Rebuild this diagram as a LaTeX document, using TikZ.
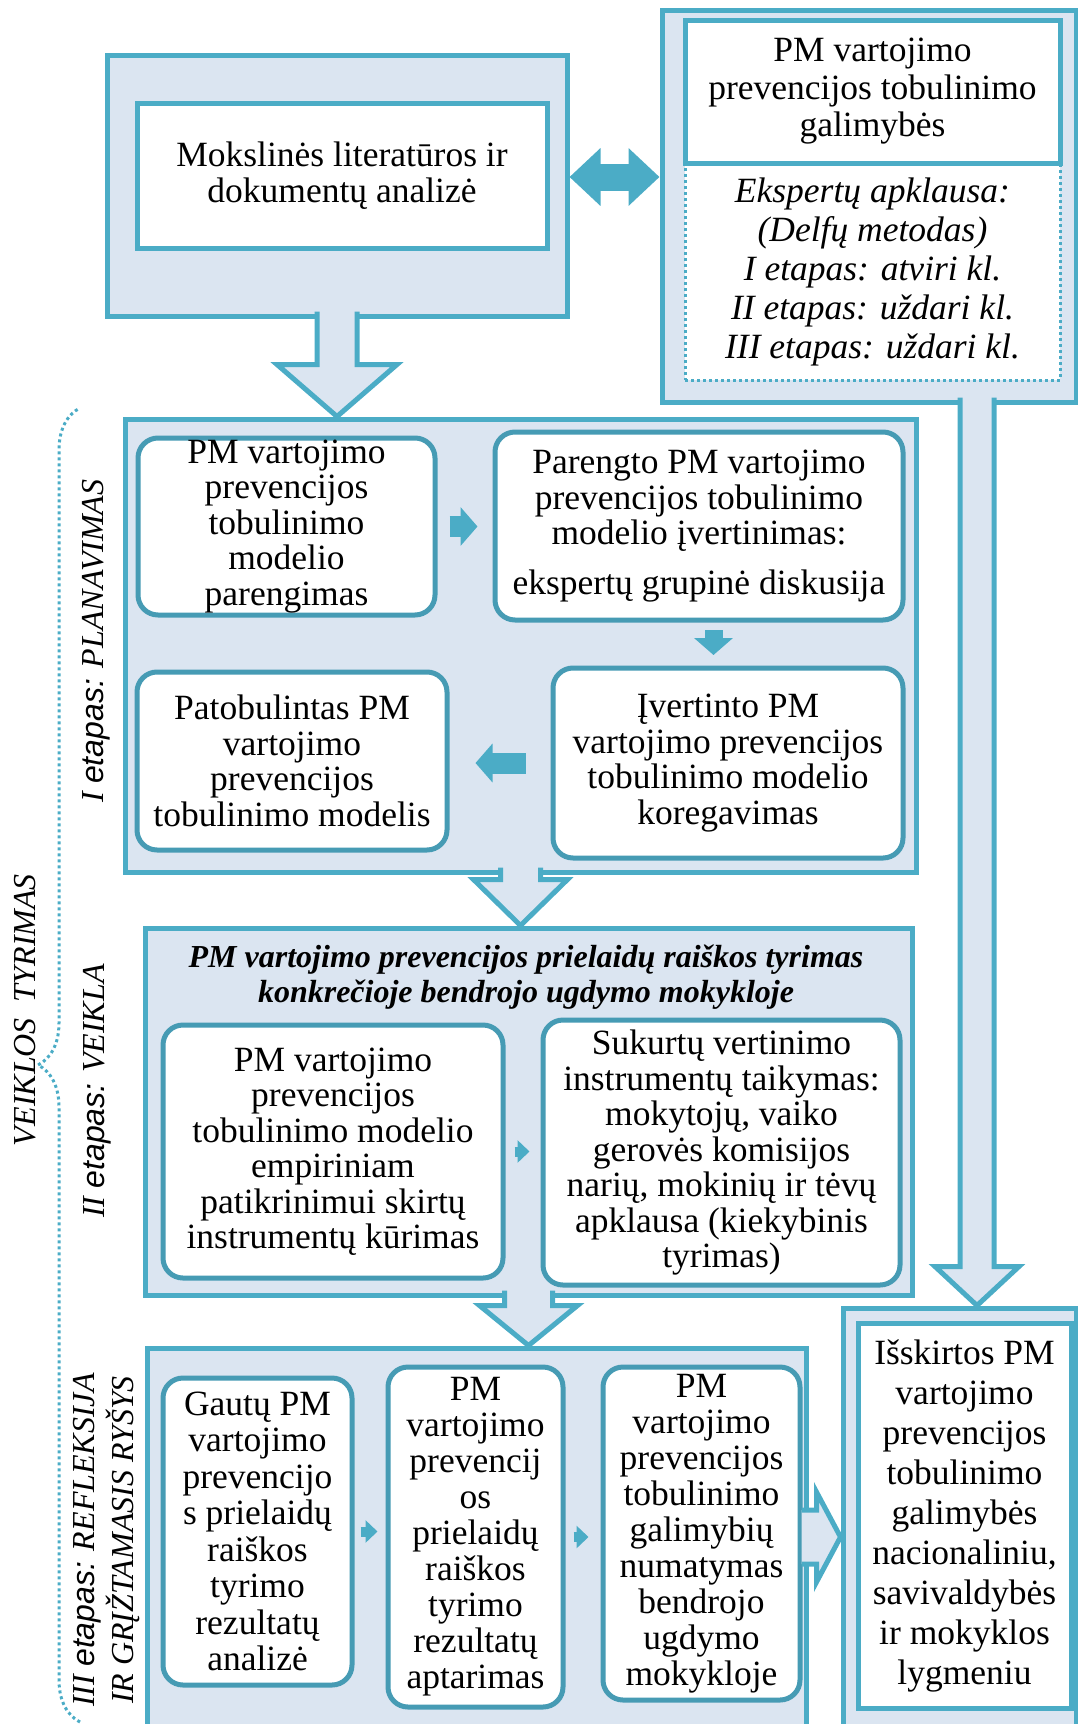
\documentclass[tikz,border=0pt]{standalone}
\usepackage{fontspec}
\setmainfont{Liberation Serif}
\newfontfamily\etapfont{Liberation Sans}
\usetikzlibrary{
    arrows.meta,
    positioning,
    calc,
    decorations.pathreplacing
}
\definecolor{aqua}{HTML}{4BACC6}
\definecolor{aquadark}{HTML}{469BB4}
\definecolor{paleblue}{HTML}{DBE5F1}

\begin{document}
\begin{tikzpicture}[
    x=1pt, y=-1pt,
    every node/.style={align=center, inner sep=0pt, font=\fontsize{35.5}{35.5}\selectfont},
    block/.style={rectangle, draw=aqua, fill=paleblue, line width=5pt},
    plainbox/.style={rectangle, draw=aqua, fill=white, line width=5pt},
    stepbox/.style={rectangle, rounded corners=20pt, draw=aquadark, fill=white, line width=5pt},
    hollow/.style={draw=aqua, fill=paleblue, line width=5pt, line join=miter},
    midarrow/.style={draw=aqua, line width=21pt, -{Triangle[length=17pt, width=38pt]}},
    tinyarrow/.style={draw=aqua, line width=10pt, -{Triangle[length=12pt, width=22pt]}},
    duoarrow/.style={draw=aqua, line width=27pt, {Triangle[length=31pt, width=56pt]}-{Triangle[length=31pt, width=56pt]}},
    stagelabel/.style={rotate=90, font=\fontsize{32}{39}\selectfont\itshape}
]
    \useasboundingbox (0,0) rectangle (1078,1724);
    \clip (0,0) rectangle (1078,1724);

    % Outer blocks
    \node (lit) [block, minimum width=460pt, minimum height=261pt] at (337,185.5) {};
    \node (panel) [block, minimum width=414pt, minimum height=392pt] at (869,206) {};
    \node (plan) [block, minimum width=791pt, minimum height=453pt] at (520.5,645.5) {};
    \node (act) [block, minimum width=767pt, minimum height=367pt] at (528.5,1111.5) {};
    \node (refl) [block, minimum width=659pt, minimum height=378pt] at (476.5,1537) {};
    \node (fin) [block, minimum width=233pt, minimum height=418pt] at (959.5,1517) {};

    % Nodes
    \node (litin) [plainbox, minimum width=410pt, minimum height=145pt] at (342,175.5)
        {Mokslinės literatūros ir\\dokumentų analizė};
    \node (delphi) [rectangle, draw=aqua, fill=white, line width=3pt, dash pattern=on 3pt off 3pt,
        minimum width=375pt, minimum height=217pt, font=\fontsize{35.5}{39}\selectfont\itshape] at (872.5,271.5)
        {Ekspertų apklausa:\\(Delfų metodas)\\I etapas: atviri kl.\\II etapas: uždari kl.\\III etapas: uždari kl.};
    \node (goal) [plainbox, minimum width=375pt, minimum height=143pt, font=\fontsize{35.5}{37.5}\selectfont] at (872.5,91.5)
        {PM vartojimo\\prevencijos tobulinimo\\galimybės};

    \node (prep) [stepbox, minimum width=297pt, minimum height=177pt] at (286.5,526.5)
        {PM vartojimo\\prevencijos\\tobulinimo\\modelio\\parengimas};
    \node (eval) [stepbox, minimum width=408pt, minimum height=188pt] at (699,526)
        {Parengto PM vartojimo\\prevencijos tobulinimo\\modelio įvertinimas:\\[14pt]ekspertų grupinė diskusija};
    \node (corr) [stepbox, minimum width=350pt, minimum height=190pt] at (728,763)
        {Įvertinto PM\\vartojimo prevencijos\\tobulinimo modelio\\koregavimas};
    \node (impr) [stepbox, minimum width=310pt, minimum height=178pt] at (292,761)
        {Patobulintas PM\\vartojimo\\prevencijos\\tobulinimo modelis};

    \node (acttitle) [font=\fontsize{32}{35}\selectfont\bfseries\itshape] at (526,977)
        {PM vartojimo prevencijos prielaidų raiškos tyrimas\\konkrečioje bendrojo ugdymo mokykloje};
    \node (tools) [stepbox, minimum width=340pt, minimum height=253pt] at (333,1151.5)
        {PM vartojimo\\prevencijos\\tobulinimo modelio\\empiriniam\\patikrinimui skirtų\\instrumentų kūrimas};
    \node (apply) [stepbox, minimum width=357pt, minimum height=265pt] at (721.5,1152.5)
        {Sukurtų vertinimo\\instrumentų taikymas:\\mokytojų, vaiko\\gerovės komisijos\\narių, mokinių ir tėvų\\apklausa (kiekybinis\\tyrimas)};

    \node (analyse) [stepbox, minimum width=189pt, minimum height=307pt, font=\fontsize{35.5}{36.5}\selectfont] at (257.5,1531.5)
        {Gautų PM\\vartojimo\\prevencijo\\s prielaidų\\raiškos\\tyrimo\\rezultatų\\analizė};
    \node (discuss) [stepbox, minimum width=175pt, minimum height=340pt, font=\fontsize{35.5}{36}\selectfont] at (475.5,1537)
        {PM\\vartojimo\\prevencij\\os\\prielaidų\\raiškos\\tyrimo\\rezultatų\\aptarimas};
    \node (foresee) [stepbox, minimum width=197pt, minimum height=333pt, font=\fontsize{35.5}{36}\selectfont] at (701.5,1533.5)
        {PM\\vartojimo\\prevencijos\\tobulinimo\\galimybių\\numatymas\\bendrojo\\ugdymo\\mokykloje};
    \node (finin) [plainbox, minimum width=213pt, minimum height=385pt, font=\fontsize{35.5}{40}\selectfont] at (964.5,1515.5)
        {Išskirtos PM\\vartojimo\\prevencijos\\tobulinimo\\galimybės\\nacionaliniu,\\savivaldybės\\ir mokyklos\\lygmeniu};

    % Stage labels
    \node (lblresearch) [stagelabel] at (25,1010) {VEIKLOS\ \ TYRIMAS};
    \node (lblplan) [stagelabel] at (96,641) {I {\etapfont etapas:} PLANAVIMAS};
    \node (lblact) [stagelabel] at (97,1091) {II {\etapfont etapas:} VEIKLA};
    \node (lblrefl) [stagelabel] at (107,1540) {III {\etapfont etapas:} REFLEKSIJA\\IR GRĮŽTAMASIS RYŠYS};
    \draw [aqua, line width=3pt, dash pattern=on 3pt off 3pt, decorate,
        decoration={brace, amplitude=42pt}] (80,1722) -- (80,408);

    % Arrows
    \draw [duoarrow] ($(lit.east)+(0,-8.5)$) -- ($(panel.west |- lit.east)+(0,-8.5)$);

    \coordinate (t1) at (lit.south |- plan.north);
    \draw [hollow] ($(lit.south)+(-20,-7)$) -- ($(t1)+(-20,-52)$) -- ($(t1)+(-60,-52)$) -- (t1)
        -- ($(t1)+(60,-52)$) -- ($(t1)+(20,-52)$) -- ($(lit.south)+(20,-7)$);
    \coordinate (t2) at (plan.south |- act.north);
    \draw [hollow] ($(plan.south)+(-20,-7)$) -- ($(t2)+(-20,-46)$) -- ($(t2)+(-47,-46)$) -- (t2)
        -- ($(t2)+(47,-46)$) -- ($(t2)+(20,-46)$) -- ($(plan.south)+(20,-7)$);
    \coordinate (t3) at (act.south |- refl.north);
    \draw [hollow] ($(act.south)+(-24,-7)$) -- ($(t3)+(-24,-40)$) -- ($(t3)+(-49,-40)$) -- (t3)
        -- ($(t3)+(49,-40)$) -- ($(t3)+(24,-40)$) -- ($(act.south)+(24,-7)$);

    \coordinate (rx) at (977,0);
    \coordinate (s4) at (rx |- panel.south);
    \coordinate (t4) at (rx |- fin.north);
    \draw [hollow] ($(s4)+(-17,-7)$) -- ($(t4)+(-17,-39)$) -- ($(t4)+(-42,-39)$) -- (t4)
        -- ($(t4)+(42,-39)$) -- ($(t4)+(17,-39)$) -- ($(s4)+(17,-7)$);
    \coordinate (t5) at (fin.west |- refl.east);
    \draw [hollow] ($(refl.east)+(-7,-27)$) -- ($(t5)+(-24,-27)$) -- ($(t5)+(-24,-45)$) -- (t5)
        -- ($(t5)+(-24,45)$) -- ($(t5)+(-24,27)$) -- ($(refl.east)+(-7,27)$);

    \draw [midarrow] ($(prep.east)+(12,0)$) -- ($(eval.west |- prep.east)+(-15,0)$);
    \coordinate (bc) at ($(eval.south)!0.5!(corr.north)$);
    \draw [midarrow, line width=18pt] ($(bc)+(0,-14)$) -- ($(bc)+(0,11)$);
    \draw [midarrow] ($(corr.west)+(-25,0)$) -- ($(impr.east |- corr.west)+(26,0)$);
    \draw [tinyarrow] ($(tools.east)+(9,0)$) -- ($(apply.west |- tools.east)+(-11,0)$);
    \draw [tinyarrow] ($(analyse.east)+(6,0)$) -- ($(discuss.west |- analyse.east)+(-8,0)$);
    \draw [tinyarrow] ($(discuss.east)+(8,0)$) -- ($(foresee.west |- discuss.east)+(-12,0)$);

\end{tikzpicture}
\end{document}
